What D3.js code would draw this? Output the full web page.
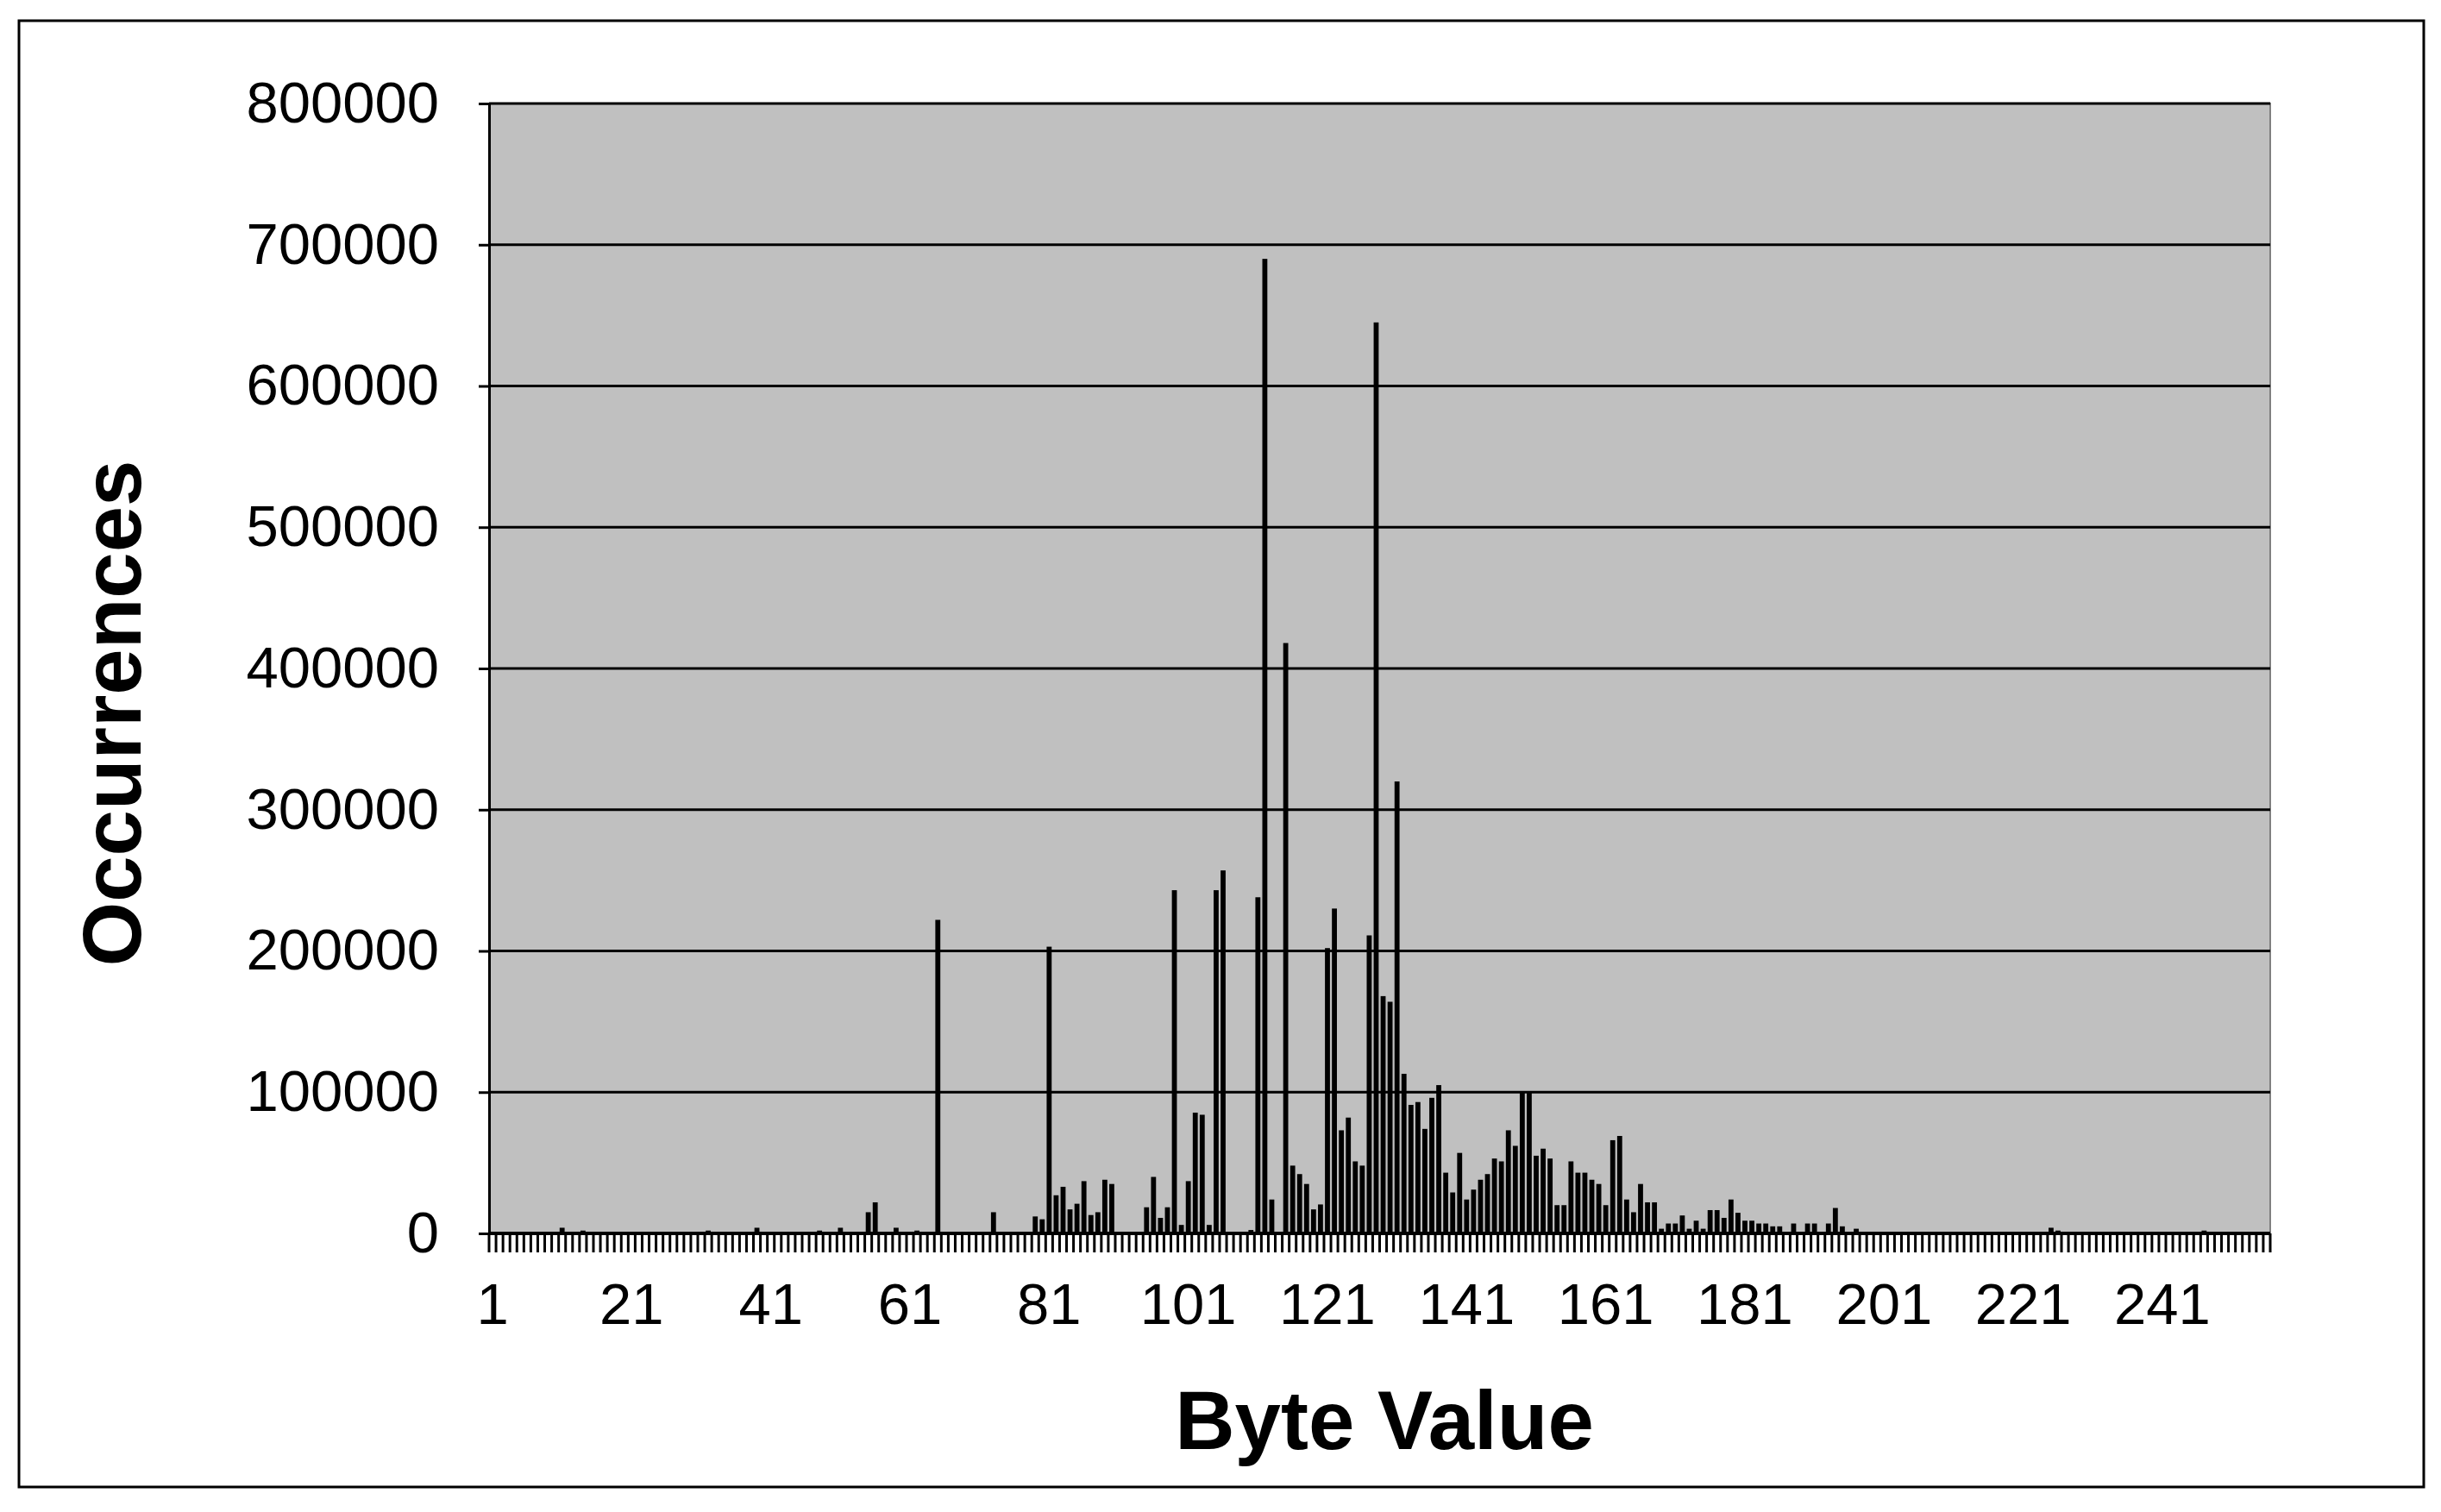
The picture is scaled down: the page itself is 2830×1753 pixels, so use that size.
<!DOCTYPE html>
<html><head><meta charset="utf-8">
<script src="https://cdn.jsdelivr.net/npm/d3@7"></script>
<style>body{margin:0;background:#fff}</style>
</head><body>
<svg id="c" width="2830" height="1753"></svg>
<script>
// Byte values 1..256
const categories = d3.range(1, 257);
// Non-trivial counts (byte value -> occurrences); others ~ baseline
const peakBytes = [11,14,32,39,48,51,55,56,59,62,65,73,79,80,81,82,83,84,85,86,87,88,89,90,
 95,96,97,98,99,100,101,102,103,104,105,106,110,111,112,113,115,116,117,118,119,120,121,122,123,124,125,126,127,128,
 129,130,131,132,133,134,135,136,137,138,139,140,141,142,143,144,145,146,147,148,149,150,151,152,153,154,155,156,157,158,159,160,161,162,163,164,165,
 166,167,168,169,170,171,172,173,174,175,176,177,178,179,180,181,182,183,184,185,186,188,190,191,193,194,195,197,225,226,247];
const peakValues = [4000,2000,2000,4000,2000,4000,15000,22000,4000,2000,222000,15000,12000,10000,203000,27000,33000,17000,21000,37000,13000,15000,38000,35000,
 18500,40000,11000,18500,243000,6000,37000,85500,84000,6000,243000,257000,2400,238000,690000,24000,418000,48000,42000,35000,17000,20500,202000,230000,73000,82000,51000,48000,211000,645000,
 168000,164000,320000,113000,91000,93000,74000,96000,105000,43000,29000,57000,24000,31000,38000,42000,53000,51000,73000,62000,100000,100000,55000,60000,53000,20000,20000,51000,43000,43000,38000,35000,20000,66000,69000,24000,15000,
 35000,22000,22000,3300,7000,7000,12700,3300,9000,3300,16500,16500,11000,24000,14600,9000,9000,7000,7000,5000,5000,7000,7000,7000,7000,18000,5000,3300,4000,2000,2000];
const baseValue = 800;
const yTicks = [0,100000,200000,300000,400000,500000,600000,700000,800000];
const xTickLabels = [1,21,41,61,81,101,121,141,161,181,201,221,241];

const lookup = new Map(peakBytes.map((b,i)=>[b,peakValues[i]]));
const data = categories.map(c => ({c, v: lookup.has(c) ? lookup.get(c) : baseValue}));

const svg = d3.select("#c");
const L=567, R=2632, T=120, B=1430;
const x = d3.scaleBand().domain(categories).range([L,R]).paddingInner(0.28).paddingOuter(0.14);
const y = d3.scaleLinear().domain([0,800000]).range([B,T]);
const font = "'Liberation Sans', Arial, sans-serif";

svg.append("rect").attr("x",22).attr("y",24).attr("width",2788).attr("height",1700)
  .attr("fill","#fff").attr("stroke","#000").attr("stroke-width",3);
svg.append("rect").attr("x",L).attr("y",T).attr("width",R-L).attr("height",B-T)
  .attr("fill","#c0c0c0").attr("stroke","#808080").attr("stroke-width",2);

svg.append("g").selectAll("line").data(yTicks.slice(1)).join("line")
  .attr("x1",L).attr("x2",R).attr("y1",d=>y(d)).attr("y2",d=>y(d))
  .attr("stroke","#000").attr("stroke-width",3);

svg.append("g").selectAll("rect").data(data).join("rect")
  .attr("x",d=>x(d.c)).attr("width",x.bandwidth())
  .attr("y",d=>y(d.v)).attr("height",d=>B-y(d.v)).attr("fill","#000");

const ya = svg.append("g").attr("transform",`translate(${L},0)`)
  .call(d3.axisLeft(y).tickValues(yTicks).tickFormat(d3.format("d")).tickSize(12).tickPadding(46));
ya.select(".domain").attr("stroke","#000").attr("stroke-width",3);
ya.selectAll(".tick line").attr("stroke","#000").attr("stroke-width",3);
ya.selectAll("text").attr("font-family",font).attr("font-size",67).attr("fill","#000");

const step = x.step();
const bounds = categories.map(c => x(c) - x.paddingInner()*step/2);
bounds.push(R);
svg.append("line").attr("x1",L).attr("x2",R).attr("y1",B).attr("y2",B).attr("stroke","#000").attr("stroke-width",4);
svg.append("g").selectAll("line").data(bounds).join("line")
  .attr("x1",d=>d).attr("x2",d=>d).attr("y1",B).attr("y2",B+22)
  .attr("stroke","#000").attr("stroke-width",3);
svg.append("g").selectAll("text").data(xTickLabels).join("text")
  .attr("x",d=>x(d)+x.bandwidth()/2).attr("y",1535).attr("text-anchor","middle")
  .attr("font-family",font).attr("font-size",67).text(d=>d);

svg.append("text").attr("x",1605).attr("y",1680).attr("text-anchor","middle")
  .attr("font-family",font).attr("font-weight","bold").attr("font-size",96).text("Byte Value");
svg.append("text").attr("transform","translate(163,827) rotate(-90)").attr("text-anchor","middle")
  .attr("font-family",font).attr("font-weight","bold").attr("font-size",96).text("Occurrences");
</script>
</body></html>
